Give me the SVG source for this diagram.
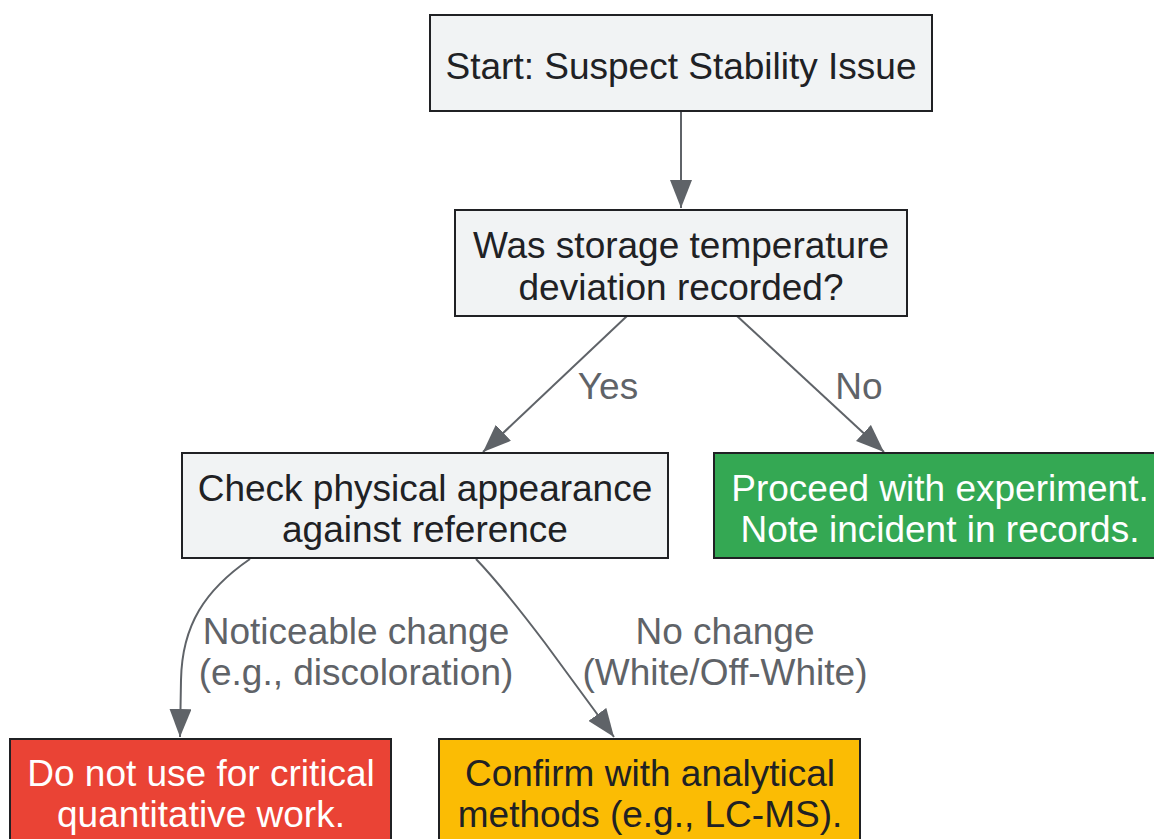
<svg xmlns="http://www.w3.org/2000/svg" width="1154" height="839" viewBox="0 0 1154 839">
<defs>
<style>
.box{stroke:#202124;stroke-width:2}
.gray{fill:#f1f3f4}
.green{fill:#34a853}
.red{fill:#ea4335}
.yellow{fill:#fbbc04}
.t{font-family:"Liberation Sans",Arial,sans-serif;font-size:37px;text-anchor:middle}
.dark{fill:#202124}
.white{fill:#ffffff}
.lbl{fill:#5f6368}
.edge{fill:none;stroke:#5f6368;stroke-width:2}
</style>
<marker id="arr" viewBox="0 0 28 22" refX="28" refY="11" markerWidth="28" markerHeight="22" markerUnits="userSpaceOnUse" orient="auto">
<path d="M0,0 L28,11 L0,22 z" fill="#5f6368"/>
</marker>
</defs>
<rect width="1154" height="839" fill="#ffffff"/>
<g id="connectors">
<path class="edge" d="M681,111 L681,208" marker-end="url(#arr)"/>
<path class="edge" d="M627,316 L483,452" marker-end="url(#arr)"/>
<path class="edge" d="M737,316 L884,452" marker-end="url(#arr)"/>
<path class="edge" d="M250,559 C205,590 182,625 181,680 L180,737" marker-end="url(#arr)"/>
<path class="edge" d="M476,559 C500,584 520,610 545,643 L614,737" marker-end="url(#arr)"/>
<text class="t lbl" x="608" y="399">Yes</text>
<text class="t lbl" x="859" y="399">No</text>
<text class="t lbl" x="356" y="644">Noticeable change</text>
<text class="t lbl" x="356" y="685">(e.g., discoloration)</text>
<text class="t lbl" x="725" y="644">No change</text>
<text class="t lbl" x="725" y="685">(White/Off-White)</text>
</g>
<g id="start">
<rect class="box gray" x="430" y="15" width="502" height="96"/>
<text class="t dark" x="681" y="79">Start: Suspect Stability Issue</text>
</g>
<g id="deviation">
<rect class="box gray" x="455" y="210" width="452" height="106"/>
<text class="t dark" x="681" y="258">Was storage temperature</text>
<text class="t dark" x="681" y="300">deviation recorded?</text>
</g>
<g id="check">
<rect class="box gray" x="182" y="453" width="486" height="105"/>
<text class="t dark" x="425" y="501">Check physical appearance</text>
<text class="t dark" x="425" y="542">against reference</text>
</g>
<g id="proceed">
<rect class="box green" x="714" y="453" width="460" height="105"/>
<text class="t white" x="940" y="501">Proceed with experiment.</text>
<text class="t white" x="940" y="542">Note incident in records.</text>
</g>
<g id="donotuse">
<rect class="box red" x="10" y="739" width="381" height="120"/>
<text class="t white" x="201" y="786">Do not use for critical</text>
<text class="t white" x="201" y="827">quantitative work.</text>
</g>
<g id="confirm">
<rect class="box yellow" x="439" y="739" width="421" height="120"/>
<text class="t dark" x="650" y="786">Confirm with analytical</text>
<text class="t dark" x="650" y="827">methods (e.g., LC-MS).</text>
</g>
</svg>
